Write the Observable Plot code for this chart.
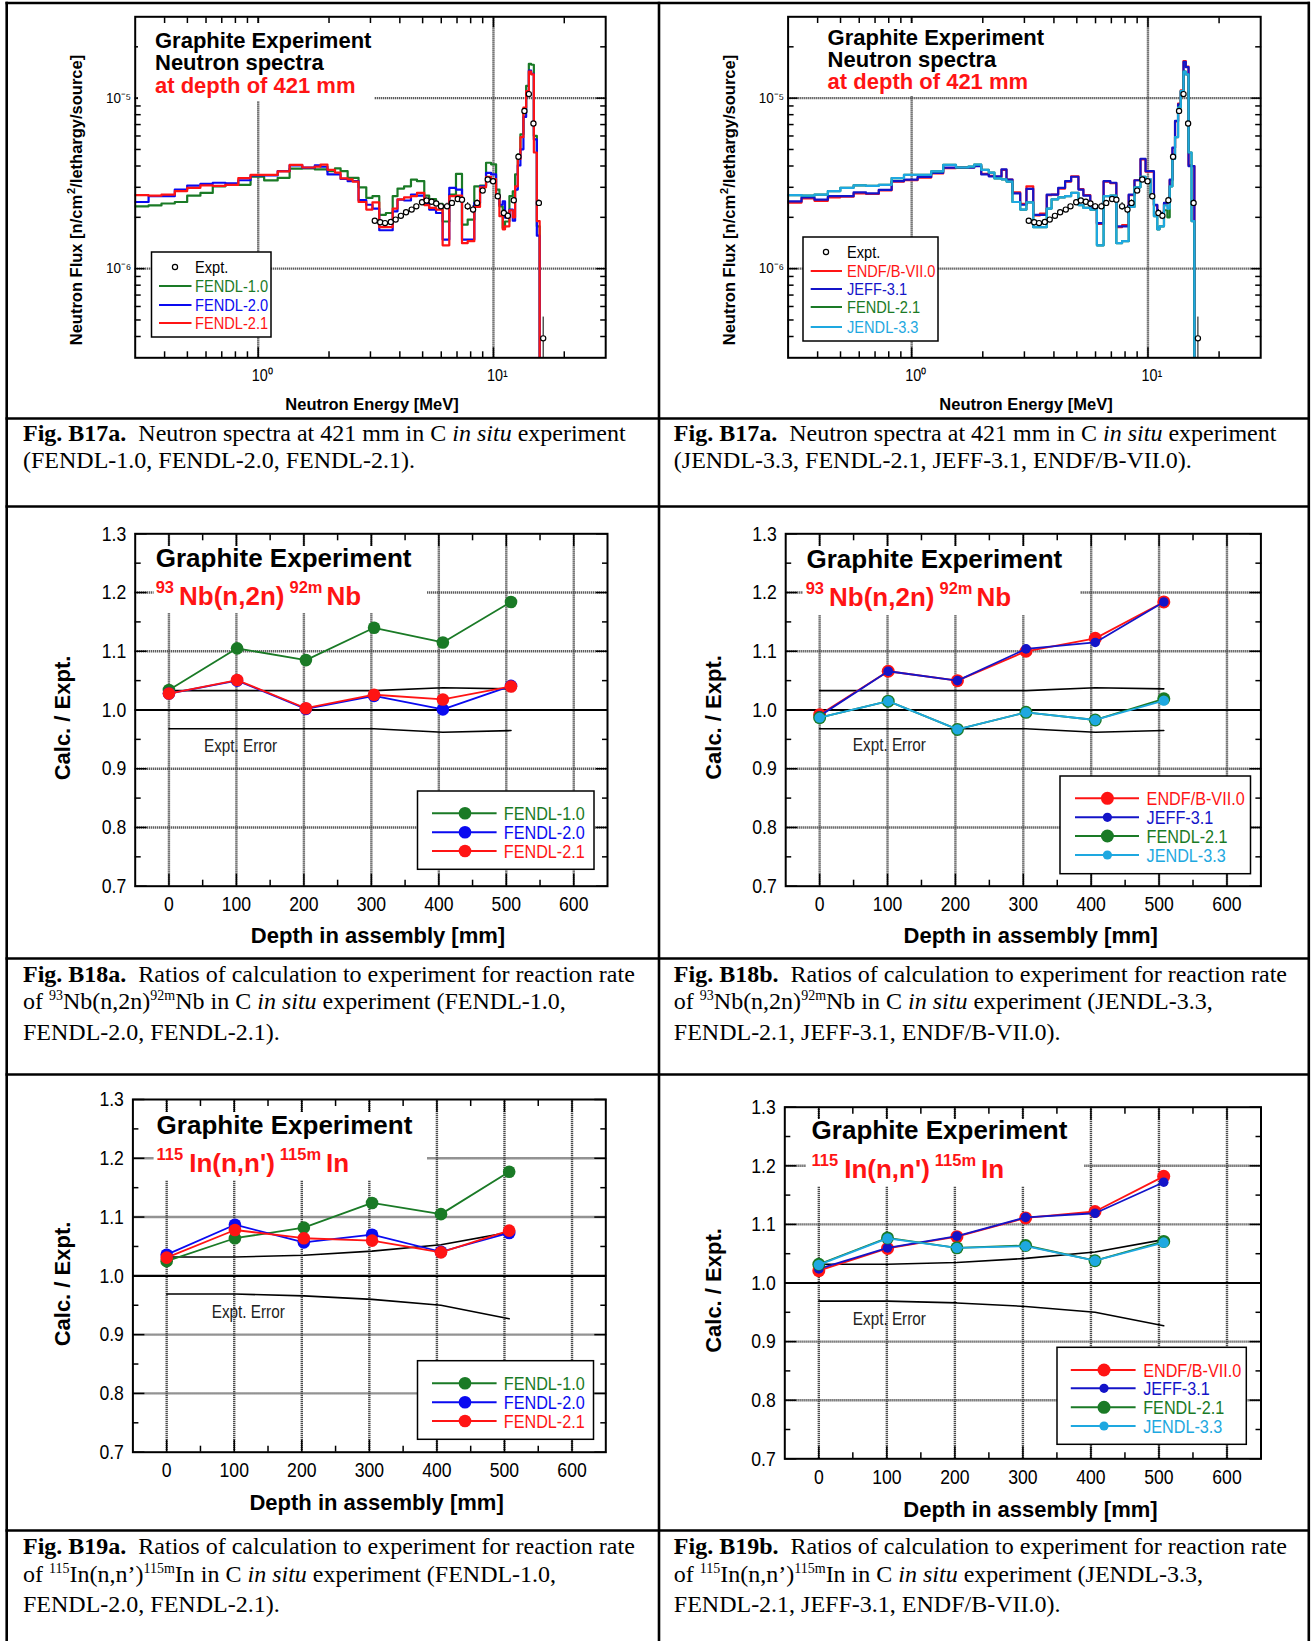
<!DOCTYPE html>
<html><head><meta charset="utf-8">
<script src="https://cdn.jsdelivr.net/npm/d3@7"></script>
<script src="https://cdn.jsdelivr.net/npm/@observablehq/plot@0.6"></script>
<style>
body{margin:0;background:#fff;}
#page{position:relative;width:1311px;height:1641px;overflow:hidden;background:#fff;}
.panel{position:absolute;z-index:1;}
.cap{position:absolute;z-index:3;font-family:"Liberation Serif","Times New Roman",serif;font-size:24px;line-height:27.5px;color:#000;white-space:nowrap;}
.cap sup{font-size:14px;vertical-align:baseline;position:relative;top:-9px;}
</style></head><body><div id="page"></div>
<script>
// ================= DATA =================
// Neutron spectra at 421 mm (flux in units of 1e-6 n/cm2/lethargy/source), group edges in MeV
const specEdges = [0.29, 0.342, 0.388, 0.442, 0.499, 0.568, 0.641, 0.726, 0.823, 0.928,
  1.06, 1.21, 1.36, 1.54, 1.74, 1.84, 1.97, 2.12, 2.24, 2.40,
  2.52, 2.67, 2.88, 3.06, 3.27, 3.49, 3.73, 3.91, 4.17, 4.46,
  4.73, 5.08, 5.33, 5.70, 6.08, 6.49, 6.93, 7.35, 7.77, 8.29,
  8.77, 9.30, 9.77, 10.26, 10.60, 10.95, 11.20, 11.69, 12.08, 12.36,
  12.69, 13.02, 13.41, 13.77, 14.14, 14.46, 14.85, 15.29, 15.72];
const specF10 = [2.32, 2.35, 2.41, 2.46, 2.68, 2.78, 3.04, 3.10, 3.10, 3.46,
  3.29, 3.41, 3.86, 3.87, 3.82, 3.82, 3.73, 3.87, 3.73, 3.41,
  3.41, 3.00, 2.60, 2.66, 2.07, 2.12, 2.66, 2.95, 3.04, 3.33,
  3.26, 2.68, 2.56, 2.40, 1.89, 2.72, 3.60, 1.81, 1.94, 3.04,
  3.07, 4.18, 4.09, 2.91, 2.32, 1.73, 1.89, 2.66, 2.84, 3.57,
  4.68, 6.14, 8.62, 11.8, 15.9, 15.7, 6.00, 1.77];
const specF20 = [2.46, 2.66, 2.66, 2.91, 3.07, 3.14, 3.19, 3.16, 3.30, 3.52,
  3.52, 3.73, 4.03, 3.91, 4.03, 3.96, 3.57, 3.57, 3.36, 3.26,
  3.26, 2.52, 2.37, 2.25, 1.68, 1.68, 2.17, 2.54, 2.51, 2.72,
  2.68, 2.43, 2.22, 2.12, 1.48, 2.98, 2.91, 1.48, 1.48, 2.43,
  3.04, 3.65, 3.57, 2.66, 2.37, 2.48, 1.99, 2.22, 1.91, 2.91,
  4.03, 5.01, 7.75, 11.0, 14.5, 13.9, 5.73, 1.56];
const specF21 = [2.70, 2.68, 2.72, 2.85, 2.98, 3.08, 3.06, 3.10, 3.40, 3.55,
  3.55, 3.72, 4.06, 3.92, 3.97, 4.08, 3.80, 3.66, 3.38, 3.34,
  3.24, 2.46, 2.22, 2.45, 1.75, 1.75, 2.25, 2.55, 2.62, 2.66,
  2.78, 2.36, 2.27, 2.22, 1.37, 2.66, 2.68, 1.41, 1.45, 2.30,
  3.00, 3.45, 3.35, 2.66, 2.03, 1.70, 1.77, 2.20, 2.00, 3.04,
  4.40, 5.90, 8.80, 11.0, 14.3, 13.8, 4.80, 1.90];
const specJENDL = [2.70, 2.68, 2.72, 2.85, 2.98, 3.08, 3.06, 3.10, 3.40, 3.55,
  3.55, 3.72, 4.06, 3.92, 3.97, 4.08, 3.80, 3.66, 3.38, 3.34,
  3.24, 2.46, 2.22, 2.45, 1.75, 1.75, 2.25, 2.55, 2.62, 2.66,
  2.78, 2.36, 2.27, 2.22, 1.37, 2.66, 2.68, 1.41, 1.45, 2.30,
  3.00, 3.45, 3.35, 2.66, 2.03, 1.70, 1.77, 2.35, 2.25, 3.04,
  4.40, 5.90, 8.80, 11.0, 14.3, 13.8, 4.80, 1.90];
const specJEFF = [2.48, 2.62, 2.54, 2.66, 2.66, 2.80, 2.76, 2.90, 3.26, 3.33,
  3.45, 3.65, 3.91, 3.91, 3.91, 3.99, 3.57, 3.48, 3.48, 3.82,
  3.33, 2.76, 2.37, 2.94, 2.07, 2.07, 2.72, 2.72, 2.98, 3.26,
  3.46, 2.91, 2.68, 2.27, 1.85, 3.26, 3.19, 1.77, 1.77, 2.72,
  3.30, 4.41, 3.73, 3.73, 2.37, 2.12, 2.12, 2.43, 2.43, 3.33,
  5.12, 7.35, 9.20, 11.0, 16.3, 15.2, 3.99, 3.99];
const specENDF = [2.44, 2.58, 2.50, 2.62, 2.64, 2.76, 2.74, 2.88, 3.24, 3.30,
  3.42, 3.62, 3.88, 3.90, 3.93, 4.00, 3.60, 3.50, 3.45, 3.80,
  3.33, 2.80, 2.40, 3.04, 2.05, 2.10, 2.70, 2.72, 2.95, 3.24,
  3.48, 2.93, 2.70, 2.27, 1.83, 3.24, 3.17, 1.75, 1.80, 2.70,
  3.30, 4.38, 3.70, 3.70, 2.35, 2.10, 2.08, 2.40, 2.43, 3.30,
  5.10, 7.30, 9.30, 11.1, 16.5, 15.3, 4.05, 4.00];
const exptE = [3.13, 3.30, 3.46, 3.66, 3.84, 4.04, 4.25, 4.49, 4.70, 4.97,
  5.20, 5.46, 5.71, 5.98, 6.35, 6.66, 7.05, 7.35, 7.77, 8.19,
  8.52, 9.00, 9.46, 9.96, 10.43, 11.07, 11.51, 12.20, 12.77, 13.54,
  14.14, 14.79, 15.60, 16.27];
const exptFlux = [1.91, 1.87, 1.85, 1.88, 1.94, 2.04, 2.14, 2.22, 2.32, 2.45,
  2.51, 2.47, 2.41, 2.32, 2.32, 2.43, 2.56, 2.54, 2.32, 2.22,
  2.43, 2.87, 3.33, 3.26, 2.66, 2.12, 2.04, 2.52, 4.53, 8.42,
  10.56, 7.10, 2.43, 0.39];
const exptErr = [0.05, 0.05, 0.05, 0.05, 0.05, 0.05, 0.06, 0.06, 0.06, 0.08,
  0.07, 0.07, 0.07, 0.08, 0.10, 0.08, 0.08, 0.08, 0.12, 0.12,
  0.10, 0.08, 0.08, 0.08, 0.10, 0.10, 0.10, 0.10, 0.12, 0.20,
  0.25, 0.20, 0.10, 0.13];
const fluxUnit = 1e-6;
const specXTicks = [1, 10];
const specXTickLabels = ["10\u2070", "10\u00B9"];
const specYTicks = [1e-6, 1e-5];
const specYTickLabels = ["10\u207B\u2076", "10\u207B\u2075"];
const specXMinor = [0.4, 0.5, 0.6, 0.7, 0.8, 0.9, 2, 3, 4, 5, 6, 7, 8, 9, 20];
const specYMinor = [4e-7, 5e-7, 6e-7, 7e-7, 8e-7, 9e-7, 2e-6, 3e-6, 4e-6, 5e-6, 6e-6, 7e-6, 8e-6, 9e-6, 2e-5];

// Reaction-rate ratios C/E vs depth (mm)
const depths = [0, 101, 203, 304, 406, 507];
const nbFENDL10 = [1.034, 1.105, 1.085, 1.140, 1.115, 1.184];
const nbFENDL20 = [1.028, 1.050, 1.002, 1.024, 1.001, 1.041];
const nbFENDL21 = [1.028, 1.051, 1.003, 1.026, 1.018, 1.040];
const nbErrUp = [1.033, 1.033, 1.033, 1.033, 1.038, 1.036];
const nbErrLo = [0.968, 0.968, 0.968, 0.968, 0.962, 0.965];
const nbENDF = [0.992, 1.066, 1.050, 1.100, 1.122, 1.184];
const nbJEFF = [0.990, 1.066, 1.050, 1.104, 1.115, 1.184];
const nbFENDL21b = [0.987, 1.015, 0.967, 0.996, 0.983, 1.019];
const nbJENDL = [0.987, 1.015, 0.967, 0.996, 0.983, 1.016];
const inFENDL10 = [1.025, 1.064, 1.082, 1.124, 1.105, 1.177];
const inFENDL20 = [1.036, 1.087, 1.057, 1.070, 1.041, 1.073];
const inFENDL21 = [1.031, 1.078, 1.064, 1.060, 1.040, 1.077];
const inErrUp = [1.032, 1.032, 1.035, 1.042, 1.053, 1.074];
const inErrLo = [0.969, 0.969, 0.966, 0.960, 0.950, 0.927];
const inENDF = [1.021, 1.059, 1.079, 1.111, 1.122, 1.182];
const inJEFF = [1.024, 1.060, 1.080, 1.112, 1.119, 1.172];
const inFENDL21b = [1.032, 1.077, 1.060, 1.064, 1.038, 1.071];
const inJENDL = [1.031, 1.076, 1.060, 1.063, 1.038, 1.069];
const ratioRef = [1.0];
const ratioXTicks = [0, 100, 200, 300, 400, 500, 600];
const ratioXMinor = [50, 150, 250, 350, 450, 550];
const ratioYTicks = [0.7, 0.8, 0.9, 1.0, 1.1, 1.2, 1.3];
const ratioYMinor = [0.75, 0.85, 0.95, 1.05, 1.15, 1.25];
const ratioGridY = [0.8, 0.9, 1.1, 1.2];

// ================= STYLE =================
const SANS = '"Liberation Sans",Arial,Helvetica,sans-serif';
const C = {green: "#1a7a26", blue: "#0a0af0", red: "#ff1414", cyan: "#1ea8e0", jeff: "#1414c8"};
const gridStyle = {stroke: "#4a4a4a", strokeOpacity: 1, strokeWidth: 2.4, strokeDasharray: "1.2,0.8"};

const page = document.getElementById("page");
function condense(svg, sx) {
  svg.querySelectorAll('g[aria-label$="tick label"] text').forEach(t => {
    t.setAttribute("transform", (t.getAttribute("transform") || "") + ` scale(${sx},1)`);
  });
}
function place(el, left, top, sx) {
  condense(el, sx);
  const d = document.createElement("div");
  d.className = "panel"; d.style.left = left + "px"; d.style.top = top + "px";
  d.appendChild(el); page.appendChild(d);
}
function inward(xMajor, xMinor, yMajor, yMinor, maj, min) {
  const blank = () => "";
  const o = {tickFormat: blank, label: null, strokeWidth: 1.5};
  return [
    Plot.axisX({...o, anchor: "bottom", ticks: xMajor, tickSize: -maj}),
    Plot.axisX({...o, anchor: "top", ticks: xMajor, tickSize: -maj}),
    Plot.axisX({...o, anchor: "bottom", ticks: xMinor, tickSize: -min}),
    Plot.axisX({...o, anchor: "top", ticks: xMinor, tickSize: -min}),
    Plot.axisY({...o, anchor: "left", ticks: yMajor, tickSize: -maj}),
    Plot.axisY({...o, anchor: "right", ticks: yMajor, tickSize: -maj}),
    Plot.axisY({...o, anchor: "left", ticks: yMinor, tickSize: -min}),
    Plot.axisY({...o, anchor: "right", ticks: yMinor, tickSize: -min})
  ];
}
function stepRows(vals) {
  return specEdges.map((e, i) => ({E: e, flux: (i < vals.length ? vals[i] : 0.001) * fluxUnit}));
}
const exptRows = exptE.map((e, i) => ({E: e, flux: exptFlux[i] * fluxUnit,
  lo: (exptFlux[i] - exptErr[i]) * fluxUnit, hi: (exptFlux[i] + exptErr[i]) * fluxUnit}));

function spectra(series, ml, mr) {
  return Plot.plot({
    width: 650, height: 410, marginLeft: ml, marginRight: mr, marginTop: 16.3, marginBottom: 52.7,
    style: "background: transparent; overflow: visible;",
    x: {type: "log", domain: [0.3, 30], axis: null},
    y: {type: "log", domain: [3e-7, 3e-5], axis: null},
    marks: [
      Plot.gridX({ticks: specXTicks, ...gridStyle}),
      Plot.gridY({ticks: specYTicks, ...gridStyle}),
      ...series.map(s => Plot.line(stepRows(s.vals), {x: "E", y: "flux", curve: "step-after", stroke: s.color, strokeWidth: 2.2, clip: true})),
      Plot.ruleX(exptRows, {x: "E", y1: "lo", y2: "hi", stroke: "#000", strokeWidth: 1, clip: true}),
      Plot.dot(exptRows, {x: "E", y: "flux", r: 2.6, fill: "white", stroke: "#000", strokeWidth: 1.2, clip: true}),
      ...inward(specXTicks, specXMinor, specYTicks, specYMinor, 10, 6),
      Plot.axisX({anchor: "bottom", ticks: specXTicks, tickSize: 0, tickPadding: 12, label: null, dx: 4,
        tickFormat: d => specXTickLabels[specXTicks.indexOf(d)], fontSize: 16, fontFamily: SANS}),
      Plot.axisY({anchor: "left", ticks: specYTicks, tickSize: 0, tickPadding: 4, label: null,
        tickFormat: d => specYTickLabels[specYTicks.indexOf(d)], fontSize: 15, fontFamily: SANS}),
      Plot.frame({stroke: "#000", strokeWidth: 2})
    ]
  });
}
function ratio(series, errUp, errLo, ml, mr, mt, mb) {
  const err = depths.map((d, i) => ({d, up: errUp[i], lo: errLo[i]}));
  return Plot.plot({
    width: 650, height: 445, marginLeft: ml, marginRight: mr, marginTop: mt, marginBottom: mb,
    style: "background: transparent; overflow: visible;",
    x: {domain: [-50, 650], axis: null},
    y: {domain: [0.7, 1.3], axis: null},
    marks: [
      Plot.gridX({ticks: ratioXTicks, ...gridStyle}),
      Plot.gridY({ticks: ratioGridY, ...gridStyle}),
      Plot.ruleY(ratioRef, {stroke: "#000", strokeWidth: 2.2}),
      Plot.line(err, {x: "d", y: "up", stroke: "#000", strokeWidth: 1.6}),
      Plot.line(err, {x: "d", y: "lo", stroke: "#000", strokeWidth: 1.6}),
      ...series.flatMap(s => {
        const rows = depths.map((d, i) => ({d, v: s.vals[i]}));
        return [Plot.line(rows, {x: "d", y: "v", stroke: s.color, strokeWidth: 1.8}),
                Plot.dot(rows, {x: "d", y: "v", r: s.r, fill: s.color})];
      }),
      ...inward(ratioXTicks, ratioXMinor, ratioYTicks, ratioYMinor, 12, 6),
      Plot.axisX({anchor: "bottom", ticks: ratioXTicks, tickSize: 0, tickPadding: 10, label: null,
        tickFormat: d => String(d), fontSize: 21, fontFamily: SANS}),
      Plot.axisY({anchor: "left", ticks: ratioYTicks, tickSize: 0, tickPadding: 9, label: null,
        tickFormat: d3.format(".1f"), fontSize: 21, fontFamily: SANS}),
      Plot.frame({stroke: "#000", strokeWidth: 2})
    ]
  });
}

place(spectra([{vals: specF10, color: C.green}, {vals: specF20, color: C.blue}, {vals: specF21, color: C.red}], 134.7, 44.8), 0, 0, 0.9);
place(spectra([{vals: specENDF, color: C.red}, {vals: specJEFF, color: C.jeff}, {vals: specF21, color: C.green}, {vals: specJENDL, color: C.cyan}], 127.6, 49.8), 660, 0, 0.9);
place(ratio([{vals: nbFENDL10, color: C.green, r: 6.3}, {vals: nbFENDL20, color: C.blue, r: 6.3}, {vals: nbFENDL21, color: C.red, r: 6.3}], nbErrUp, nbErrLo, 134.7, 43, 23.3, 69.3), 0, 510, 0.84);
place(ratio([{vals: nbENDF, color: C.red, r: 6.5}, {vals: nbJEFF, color: C.jeff, r: 4.8}, {vals: nbFENDL21b, color: C.green, r: 6.5}, {vals: nbJENDL, color: C.cyan, r: 5.2}], nbErrUp, nbErrLo, 125.2, 49.6, 23.3, 69.3), 660, 510, 0.84);
place(ratio([{vals: inFENDL10, color: C.green, r: 6.3}, {vals: inFENDL20, color: C.blue, r: 6.3}, {vals: inFENDL21, color: C.red, r: 6.3}], inErrUp, inErrLo, 132.4, 44.7, 23, 69.3), 0, 1076, 0.84);
place(ratio([{vals: inENDF, color: C.red, r: 6.5}, {vals: inJEFF, color: C.jeff, r: 4.8}, {vals: inFENDL21b, color: C.green, r: 6.5}, {vals: inJENDL, color: C.cyan, r: 5.2}], inErrUp, inErrLo, 124.3, 49.5, 30.7, 62.7), 660, 1076, 0.84);

// ================= OVERLAY (table, annotations, legends, axis titles) =================
const ov = d3.select("#page").append("svg").attr("width", 1311).attr("height", 1641)
  .style("position", "absolute").style("left", 0).style("top", 0).style("z-index", 2);
function T(x, y, str, {size = 16, weight = "normal", fill = "#000", anchor = "start", rotate = 0, sx = 1} = {}) {
  return ov.append("text").attr("transform", `translate(${x},${y})` + (rotate ? ` rotate(${rotate})` : "") + (sx !== 1 ? ` scale(${sx},1)` : ""))
    .attr("font-size", size).attr("font-family", SANS).attr("font-weight", weight)
    .attr("fill", fill).attr("text-anchor", anchor).text(str);
}
function whiteBox(x, y, w, h) { ov.append("rect").attr("x", x).attr("y", y).attr("width", w).attr("height", h).attr("fill", "white"); }
function rich(x, y, parts, {fill, main, sup, rise, weight = "bold"}) {
  const t = ov.append("text").attr("x", x).attr("y", y).attr("fill", fill).attr("font-family", SANS).attr("font-weight", weight);
  let cur = 0;
  parts.forEach(p => {
    const target = p.sup ? -rise : 0;
    t.append("tspan").attr("dx", p.dx || 0).attr("dy", target - cur).attr("font-size", p.sup ? sup : main).text(p.s);
    cur = target;
  });
  return t;
}
function legend(box, rows, lx1, lx2, mx, tx, size, shift, sx) {
  ov.append("rect").attr("x", box[0]).attr("y", box[1]).attr("width", box[2]).attr("height", box[3])
    .attr("fill", "white").attr("stroke", "#000").attr("stroke-width", 1.5);
  rows.forEach(r => {
    if (r.expt) {
      ov.append("circle").attr("cx", mx).attr("cy", r.y).attr("r", 2.6).attr("fill", "white").attr("stroke", "#000").attr("stroke-width", 1.2);
    } else {
      ov.append("line").attr("x1", lx1).attr("x2", lx2).attr("y1", r.y).attr("y2", r.y).attr("stroke", r.color).attr("stroke-width", 2);
      if (r.r) ov.append("circle").attr("cx", mx).attr("cy", r.y).attr("r", r.r).attr("fill", r.color);
    }
    T(tx, r.y + shift, r.label, {size, sx, fill: r.expt ? "#000" : r.color});
  });
}

// Spectra annotations
whiteBox(138, 23, 236, 78);
T(155, 48, "Graphite Experiment", {size: 22, weight: "bold"});
T(155, 70, "Neutron spectra", {size: 22, weight: "bold"});
T(155, 93, "at depth of 421 mm", {size: 22, weight: "bold", fill: C.red});
whiteBox(800, 23, 246, 73);
T(827.6, 45, "Graphite Experiment", {size: 22, weight: "bold"});
T(827.6, 67, "Neutron spectra", {size: 22, weight: "bold"});
T(827.6, 89, "at depth of 421 mm", {size: 22, weight: "bold", fill: C.red});

legend([151.5, 252, 119.5, 85], [
  {expt: true, y: 267, label: "Expt."},
  {y: 286, label: "FENDL-1.0", color: C.green},
  {y: 305, label: "FENDL-2.0", color: C.blue},
  {y: 323, label: "FENDL-2.1", color: C.red}], 159, 191.5, 175, 195, 17, 6, 0.86);
legend([803, 237, 135, 104], [
  {expt: true, y: 252, label: "Expt."},
  {y: 271, label: "ENDF/B-VII.0", color: C.red},
  {y: 289, label: "JEFF-3.1", color: C.jeff},
  {y: 307, label: "FENDL-2.1", color: C.green},
  {y: 327, label: "JENDL-3.3", color: C.cyan}], 810.7, 842, 826, 847, 17, 6, 0.86);

// Spectra axis titles
T(372, 410, "Neutron Energy [MeV]", {size: 16.5, weight: "bold", anchor: "middle"});
T(1026, 410, "Neutron Energy [MeV]", {size: 16.5, weight: "bold", anchor: "middle"});
[[82, 200], [735, 200]].forEach(([x, y]) => {
  const t = ov.append("text").attr("transform", `translate(${x},${y}) rotate(-90)`).attr("text-anchor", "middle")
    .attr("font-family", SANS).attr("font-weight", "bold").attr("font-size", 16.5);
  t.append("tspan").text("Neutron Flux [n/cm");
  t.append("tspan").attr("font-size", 11).attr("dy", -7).attr("dx", 1).text("2");
  t.append("tspan").attr("dy", 7).text("/lethargy/source]");
});

// Ratio panels annotations
function ratioAnno(box, tx, ty, rx, ry, parts) {
  whiteBox(...box);
  T(tx, ty, "Graphite Experiment", {size: 26, weight: "bold"});
  rich(rx, ry, parts, {fill: C.red, main: 26, sup: 16.5, rise: 12});
}
const nbParts = [{s: "93", sup: true}, {s: "Nb(n,2n)", dx: 5}, {s: "92m", sup: true, dx: 5}, {s: "Nb", dx: 4}];
const inParts = [{s: "115", sup: true}, {s: "In(n,n')", dx: 6}, {s: "115m", sup: true, dx: 5}, {s: "In", dx: 5}];
ratioAnno([153.6, 546, 273.4, 67], 155.7, 566.7, 155.7, 605, nbParts);
ratioAnno([803, 546, 277, 69], 806.5, 568.3, 805.7, 606, nbParts);
ratioAnno([153.6, 1112, 273.4, 68], 156.6, 1134.3, 156.6, 1171.7, inParts);
ratioAnno([806, 1119, 278, 67], 811.6, 1139, 811.6, 1177.7, inParts);

T(204, 752, "Expt. Error", {size: 18, fill: "#222", sx: 0.85});
T(852.8, 750.7, "Expt. Error", {size: 18, fill: "#222", sx: 0.85});
T(211.7, 1318.3, "Expt. Error", {size: 18, fill: "#222", sx: 0.85});
T(852.8, 1325, "Expt. Error", {size: 18, fill: "#222", sx: 0.85});

legend([417.5, 791, 176.5, 78.3], [
  {y: 813.3, label: "FENDL-1.0", color: C.green, r: 6.3},
  {y: 832.3, label: "FENDL-2.0", color: C.blue, r: 6.3},
  {y: 851, label: "FENDL-2.1", color: C.red, r: 6.3}], 432, 496.6, 465, 503.8, 18, 6.5, 0.9);
legend([1060, 776, 190.5, 97.7], [
  {y: 798.3, label: "ENDF/B-VII.0", color: C.red, r: 6.5},
  {y: 817.3, label: "JEFF-3.1", color: C.jeff, r: 4.6},
  {y: 836, label: "FENDL-2.1", color: C.green, r: 6.5},
  {y: 855, label: "JENDL-3.3", color: C.cyan, r: 4.6}], 1075, 1139, 1107.4, 1146.6, 18, 6.5, 0.9);
legend([417.5, 1360.7, 176, 78.6], [
  {y: 1383.3, label: "FENDL-1.0", color: C.green, r: 6.3},
  {y: 1402.3, label: "FENDL-2.0", color: C.blue, r: 6.3},
  {y: 1421, label: "FENDL-2.1", color: C.red, r: 6.3}], 432, 496.6, 465, 503.8, 18, 6.5, 0.9);
legend([1057, 1347.3, 189.3, 97], [
  {y: 1370, label: "ENDF/B-VII.0", color: C.red, r: 6.5},
  {y: 1388.3, label: "JEFF-3.1", color: C.jeff, r: 4.6},
  {y: 1407.3, label: "FENDL-2.1", color: C.green, r: 6.5},
  {y: 1426, label: "JENDL-3.3", color: C.cyan, r: 4.6}], 1070.8, 1135.6, 1104, 1143.2, 18, 6.5, 0.9);

// Ratio axis titles
[[378, 943.3], [1030.7, 943], [376.6, 1510], [1030.5, 1516.7]].forEach(([x, y]) =>
  T(x, y, "Depth in assembly [mm]", {size: 22, weight: "bold", anchor: "middle"}));
[[70, 718], [721, 717.5], [70, 1284], [721, 1290.5]].forEach(([x, y]) =>
  T(x, y, "Calc. / Expt.", {size: 22, weight: "bold", anchor: "middle", rotate: -90}));

// Table rules
[3, 418.5, 506.5, 958.5, 1074.5, 1530.5].forEach(y =>
  ov.append("line").attr("x1", 5.5).attr("x2", 1310).attr("y1", y).attr("y2", y).attr("stroke", "#000").attr("stroke-width", 2.6));
[6.7, 659, 1308.8].forEach(x =>
  ov.append("line").attr("x1", x).attr("x2", x).attr("y1", 1.7).attr("y2", 1641).attr("stroke", "#000").attr("stroke-width", 2.6));

// ================= CAPTIONS =================
const captions = [
  [23, 419.7, '<b>Fig. B17a.</b>&nbsp; Neutron spectra at 421 mm in C <i>in situ</i> experiment<br>(FENDL-1.0, FENDL-2.0, FENDL-2.1).'],
  [673.8, 419.7, '<b>Fig. B17a.</b>&nbsp; Neutron spectra at 421 mm in C <i>in situ</i> experiment<br>(JENDL-3.3, FENDL-2.1, JEFF-3.1, ENDF/B-VII.0).'],
  [23, 960.7, '<b>Fig. B18a.</b>&nbsp; Ratios of calculation to experiment for reaction rate<br>of <sup>93</sup>Nb(n,2n)<sup>92m</sup>Nb in C <i>in situ</i> experiment (FENDL-1.0,<br>FENDL-2.0, FENDL-2.1).'],
  [673.8, 960.7, '<b>Fig. B18b.</b>&nbsp; Ratios of calculation to experiment for reaction rate<br>of <sup>93</sup>Nb(n,2n)<sup>92m</sup>Nb in C <i>in situ</i> experiment (JENDL-3.3,<br>FENDL-2.1, JEFF-3.1, ENDF/B-VII.0).'],
  [23, 1533.2, '<b>Fig. B19a.</b>&nbsp; Ratios of calculation to experiment for reaction rate<br>of <sup>115</sup>In(n,n\u2019)<sup>115m</sup>In in C <i>in situ</i> experiment (FENDL-1.0,<br>FENDL-2.0, FENDL-2.1).'],
  [673.8, 1533.2, '<b>Fig. B19b.</b>&nbsp; Ratios of calculation to experiment for reaction rate<br>of <sup>115</sup>In(n,n\u2019)<sup>115m</sup>In in C <i>in situ</i> experiment (JENDL-3.3,<br>FENDL-2.1, JEFF-3.1, ENDF/B-VII.0).']
];
captions.forEach(([x, y, html]) => {
  const d = document.createElement("div");
  d.className = "cap"; d.style.left = x + "px"; d.style.top = y + "px"; d.innerHTML = html;
  page.appendChild(d);
});
</script></body></html>
